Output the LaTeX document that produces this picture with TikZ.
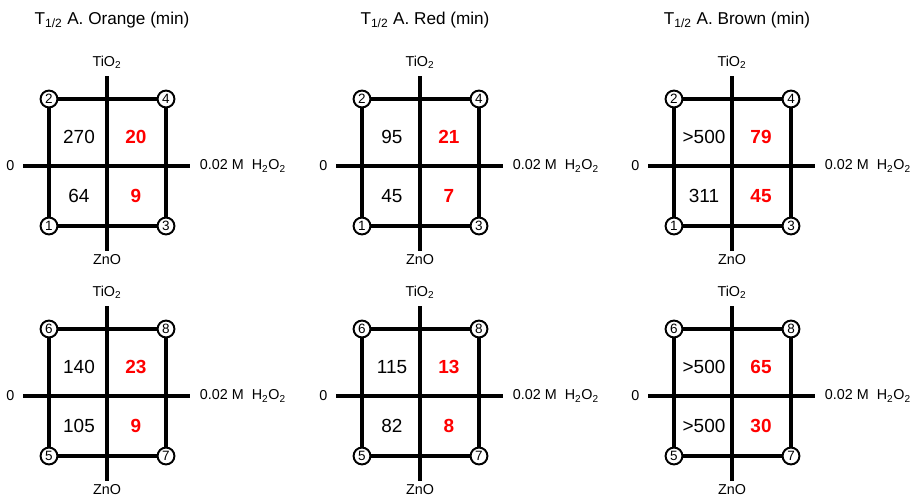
\documentclass[tikz,border=0pt]{standalone}
\usepackage{fontspec}
\setmainfont{Liberation Sans}
\usepackage{xcolor}
\usepackage{tikz}
\usetikzlibrary{positioning}
\definecolor{halfRed}{RGB}{255,0,0}
\newcommand{\thalf}{T\textsubscript{1/2}}
\newcommand{\perox}{0.02 M\ \ H\textsubscript{2}O\textsubscript{2}}

\begin{document}
\begin{tikzpicture}[x=0.025cm, y=-0.025cm, line width=2.2pt]
\tikzstyle{corner}=[circle, draw, line width=1.4pt, fill=white, inner sep=0pt, minimum size=12pt, font=\fontsize{9.6}{10}\selectfont]
\tikzstyle{val}=[inner sep=1pt, font=\fontsize{13.5}{15}\selectfont]
\tikzstyle{hot}=[inner sep=1pt, text=halfRed, font=\fontsize{13.5}{15}\selectfont\bfseries]
\tikzstyle{axlab}=[inner sep=1pt, font=\fontsize{10.2}{11}\selectfont]
\useasboundingbox (0,0) rectangle (910,496);
% titles
\foreach \k/\px/\dye in {a/0/Orange, b/313/Red, c/625/Brown}
  \node[font=\fontsize{12.2}{14}\selectfont] (title-\k) at (\px+112,20) {\thalf\ A. \dye\ (min)};
% one cross per panel
\foreach \k/\px/\py/\na/\nb/\nc/\nd/\ca/\cb/\cc/\cd in {
  a1/0/0/270/20/64/9/2/4/1/3,
  b1/313/0/95/21/45/7/2/4/1/3,
  c1/625/0/>500/79/311/45/2/4/1/3,
  a2/0/230/140/23/105/9/6/8/5/7,
  b2/313/230/115/13/82/8/6/8/5/7,
  c2/625/230/>500/65/>500/30/6/8/5/7}{
\begin{scope}[shift={(\px,\py)}]
\coordinate (\k-w) at (23,166);
\coordinate (\k-e) at (190,166);
\coordinate (\k-n) at (107,76);
\coordinate (\k-s) at (107,251);
\draw (\k-w) -- (\k-e);
\draw (\k-n) -- (\k-s);
\node[axlab, left=4pt of \k-w] (\k-zero) {0};
\node[axlab, right=5pt of \k-e] (\k-h2o2) {\perox};
\node[axlab, above=3pt of \k-n] (\k-tio2) {TiO\textsubscript{2}};
\node[axlab, below=0.5pt of \k-s] (\k-zno) {ZnO};
\node[corner] (\k-tl) at (49,99) {\ca};
\node[corner] (\k-tr) at (166,99) {\cb};
\node[corner] (\k-bl) at (49,226) {\cc};
\node[corner] (\k-br) at (166,226) {\cd};
\draw (\k-tl) -- (\k-tr) -- (\k-br) -- (\k-bl) -- (\k-tl);
\node[val] (\k-v1) at (79,137) {\na};
\node[hot] (\k-v2) at (136,137) {\nb};
\node[val] (\k-v3) at (79,196) {\nc};
\node[hot] (\k-v4) at (136,196) {\nd};
\end{scope}}
\end{tikzpicture}
\end{document}
